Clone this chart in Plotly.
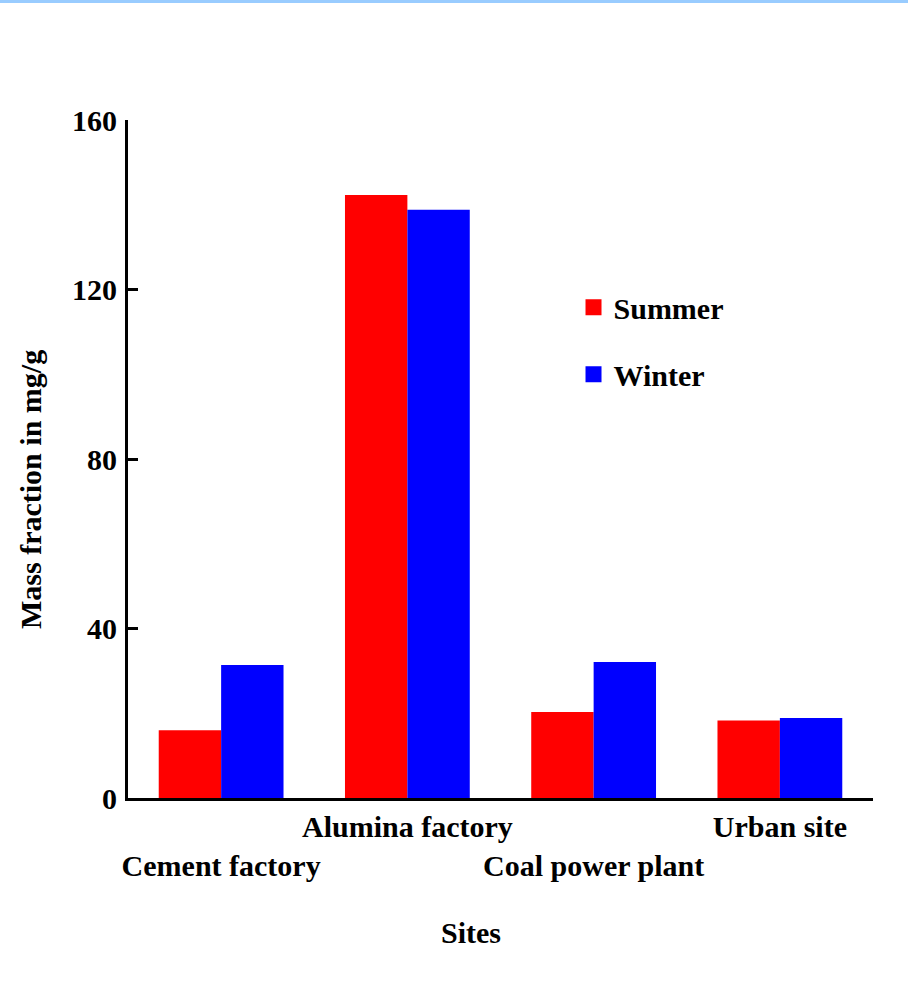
import plotly.graph_objects as go

sites = ["Cement factory", "Alumina factory", "Coal power plant", "Urban site"]
summer = [16.0, 142.3, 20.3, 18.3]
winter = [31.4, 138.8, 32.1, 18.9]
tick_vals = [0, 40, 80, 120, 160]
tick_labels = ["0", "40", "80", "120", "160"]
x_labels = ["<br>Cement factory", "Alumina factory", "<br>Coal power plant", "Urban site"]

FONT = "Liberation Serif, Times New Roman, serif"
RED = "#FF0000"
BLUE = "#0000FF"

fig = go.Figure()
fig.add_trace(go.Bar(x=sites, y=summer, name="Summer", marker=dict(color=RED, line=dict(width=0)),
                     showlegend=False))
fig.add_trace(go.Bar(x=sites, y=winter, name="Winter", marker=dict(color=BLUE, line=dict(width=0)),
                     showlegend=False))
# legend entries with larger square symbols
fig.add_trace(go.Scatter(x=[None], y=[None], mode="markers", name="Summer",
                         marker=dict(symbol="square", size=20, color=RED), legend="legend"))
fig.add_trace(go.Scatter(x=[None], y=[None], mode="markers", name="Winter",
                         marker=dict(symbol="square", size=20, color=BLUE), legend="legend2"))

font = dict(family=FONT, size=30, color="black", weight="bold")

fig.update_layout(
    width=908, height=997,
    margin=dict(l=128, r=35, t=120, b=199),
    paper_bgcolor="white", plot_bgcolor="white",
    barmode="group", bargap=0.33, bargroupgap=0,
    font=font,
    showlegend=True,
    legend=dict(x=0.598, y=0.724, xanchor="left", yanchor="middle", font=font,
                bgcolor="rgba(0,0,0,0)", borderwidth=0),
    legend2=dict(x=0.598, y=0.625, xanchor="left", yanchor="middle", font=font,
                 bgcolor="rgba(0,0,0,0)", borderwidth=0),
    xaxis=dict(type="category", range=[-0.5, 3.5], showline=True, linecolor="black", linewidth=3,
               ticks="", tickmode="array", tickvals=sites, ticktext=x_labels, tickangle=0,
               tickfont=font, showgrid=False, zeroline=False, fixedrange=True),
    yaxis=dict(range=[0, 160], showline=True, linecolor="black", linewidth=3,
               ticks="inside", ticklen=10, tickwidth=3, tickcolor="black",
               tickmode="array", tickvals=tick_vals, ticktext=tick_labels,
               tickfont=font, showgrid=False, zeroline=False, ticklabelstandoff=2),
    shapes=[dict(type="rect", xref="paper", yref="paper",
                 x0=-128 / 745, x1=1 + 35 / 745, y0=1 + 117 / 678, y1=1 + 120 / 678,
                 fillcolor="#99CCFF", line=dict(width=0), layer="above")],
    annotations=[
        dict(text="Sites", xref="paper", yref="paper", x=(471 - 128) / 745, y=(798 - 932) / 678,
             xanchor="center", yanchor="middle", showarrow=False, font=font),
        dict(text="Mass fraction in mg/g", xref="paper", yref="paper", x=(30 - 128) / 745,
             y=(798 - 490) / 678, xanchor="center", yanchor="middle", textangle=-90,
             showarrow=False, font=font),
    ],
)

fig.write_html("out.html", config={"displayModeBar": False},
               post_script="document.body.style.margin='0px';")
